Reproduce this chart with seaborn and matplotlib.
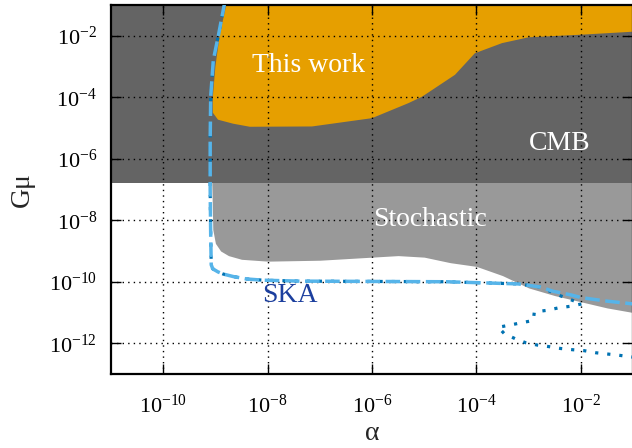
import numpy as np
import matplotlib
matplotlib.use("Agg")
from matplotlib import pyplot as plt
import seaborn as sns

# exponents (log10)
cmb_log_gmu = -6.8

stoch_log_alpha = [-9.07, -9.05, -9.0, -8.9, -8.75, -8.5, -8.0, -7.0, -6.0, -5.5, -5.0,
                   -4.5, -4.0, -3.5, -3.0, -2.5, -2.0, -1.5, -1.0, -0.9]
stoch_log_gmu = [-6.7, -8.3, -8.75, -9.0, -9.15, -9.27, -9.33, -9.30, -9.2, -9.15, -9.2,
                 -9.38, -9.5, -9.8, -10.2, -10.45, -10.65, -10.85, -11.0, -11.03]

work_log_alpha = [-8.78, -8.92, -9.0, -9.05, -9.05, -8.95, -8.66, -8.34, -7.15, -6.0, -5.3,
                  -5.04, -4.41, -4.03, -3.51, -3.0, -2.04, -1.02, -0.9, -0.9]
work_log_gmu = [-0.9, -2.0, -3.0, -4.0, -4.5, -4.73, -4.86, -4.96, -4.95, -4.68, -4.19,
                -3.98, -3.27, -2.57, -2.24, -2.05, -1.97, -1.87, -1.86, -0.9]

ska_log_alpha = [-8.82, -8.94, -9.04, -9.09, -9.10, -9.10, -9.09, -9.08, -9.05, -8.95, -8.85,
                 -8.66, -8.40, -8.08, -7.38, -4.57, -3.20, -2.78, -2.53, -2.21, -1.98, -1.50,
                 -1.06, -0.9]
ska_log_gmu = [-0.9, -1.97, -2.79, -3.98, -5.38, -7.0, -8.5, -9.45, -9.58, -9.68, -9.75,
               -9.83, -9.91, -9.95, -9.98, -10.0, -10.07, -10.17, -10.31, -10.42, -10.52,
               -10.63, -10.71, -10.74]

alt_log_alpha = [-8.82, -8.94, -9.04, -9.09, -9.10, -9.10, -9.09, -9.08, -9.05, -8.95, -8.85,
                 -8.66, -8.40, -8.08, -7.38, -4.57, -3.20, -2.78, -2.40, -1.98, -2.21, -2.43,
                 -2.65, -2.89, -2.91, -3.13, -3.36, -3.58, -3.47, -3.26, -3.06, -2.83, -2.61,
                 -2.39, -2.16, -1.94, -1.71, -1.49, -1.27, -1.06, -0.9]
alt_log_gmu = [-0.9, -1.97, -2.79, -3.98, -5.38, -7.0, -8.5, -9.45, -9.58, -9.68, -9.75,
               -9.83, -9.91, -9.95, -9.98, -10.0, -10.07, -10.17, -10.45, -10.72, -10.80,
               -10.85, -10.93, -10.98, -11.26, -11.33, -11.41, -11.48, -11.68, -11.85, -11.98,
               -12.06, -12.11, -12.17, -12.21, -12.24, -12.31, -12.35, -12.39, -12.44, -12.47]

xtick_exp = [-10, -8, -6, -4, -2]
ytick_exp = [-12, -10, -8, -6, -4, -2]

sns.set_theme(style="ticks")
plt.rcParams["font.family"] = ["Liberation Serif", "DejaVu Serif"]
plt.rcParams["mathtext.fontset"] = "custom"
plt.rcParams["mathtext.rm"] = "Liberation Serif"
plt.rcParams["mathtext.it"] = "Liberation Serif:italic"

fig = plt.figure(figsize=(6.32, 4.48), dpi=100)
ax = fig.add_axes([111 / 632, 74 / 448, 522 / 632, 369 / 448])
ax.set_xscale("log")
ax.set_yscale("log")
ax.set_xlim(1e-11, 1e-1)
ax.set_ylim(1e-13, 1e-1)

def p(v):
    return 10.0 ** np.array(v)

# regions
ax.fill_between(p(stoch_log_alpha), p(stoch_log_gmu), 1.0, color="#999999", lw=0, zorder=1)
ax.axhspan(10 ** cmb_log_gmu, 1.0, color="#646464", lw=0, zorder=1.1)
ax.fill(p(work_log_alpha), p(work_log_gmu), color="#E69F00", lw=0, zorder=1.2)

# sensitivity curves
sns.lineplot(x=p(alt_log_alpha), y=p(alt_log_gmu), sort=False, estimator=None, ax=ax,
             color="#0072B2", lw=2.3, linestyle=(0, (1, 2.8)), zorder=3)
sns.lineplot(x=p(ska_log_alpha), y=p(ska_log_gmu), sort=False, estimator=None, ax=ax,
             color="#56B4E9", lw=2.5, linestyle=(0, (4.2, 1.6)), zorder=3.1)

ax.set_axisbelow(False)
ax.grid(True, which="major", color="black", lw=1.0, ls=(0, (1, 3)))
ax.set_xticks(p(xtick_exp))
ax.set_xticklabels([f"10$^{{{e}}}$" for e in xtick_exp])
ax.set_yticks(p(ytick_exp))
ax.set_yticklabels([f"10$^{{{e}}}$" for e in ytick_exp])
ax.xaxis.set_minor_locator(matplotlib.ticker.NullLocator())
ax.yaxis.set_minor_locator(matplotlib.ticker.NullLocator())
ax.tick_params(which="major", direction="in", length=7, width=1, top=True, right=True,
               labelsize=16, color="black", labelcolor="black")
ax.tick_params(axis="x", pad=15)
ax.tick_params(axis="y", pad=10)
for s in ax.spines.values():
    s.set_linewidth(1.6)
    s.set_color("black")

ax.set_xlabel("α", fontsize=20, labelpad=2)
ax.set_ylabel("Gμ", fontsize=20, labelpad=10)

ax.text(p(-7.21), p(-2.98), "This work", color="white", fontsize=20, ha="center", va="center", zorder=4)
ax.text(p(-2.41), p(-5.49), "CMB", color="white", fontsize=20, ha="center", va="center", zorder=4)
ax.text(p(-4.89), p(-7.98), "Stochastic", color="white", fontsize=20, ha="center", va="center", zorder=4)
ax.text(p(-7.57), p(-10.45), "SKA", color="#1C3F9E", fontsize=20, ha="center", va="center", zorder=4)

fig.savefig("out.png", dpi=100)
